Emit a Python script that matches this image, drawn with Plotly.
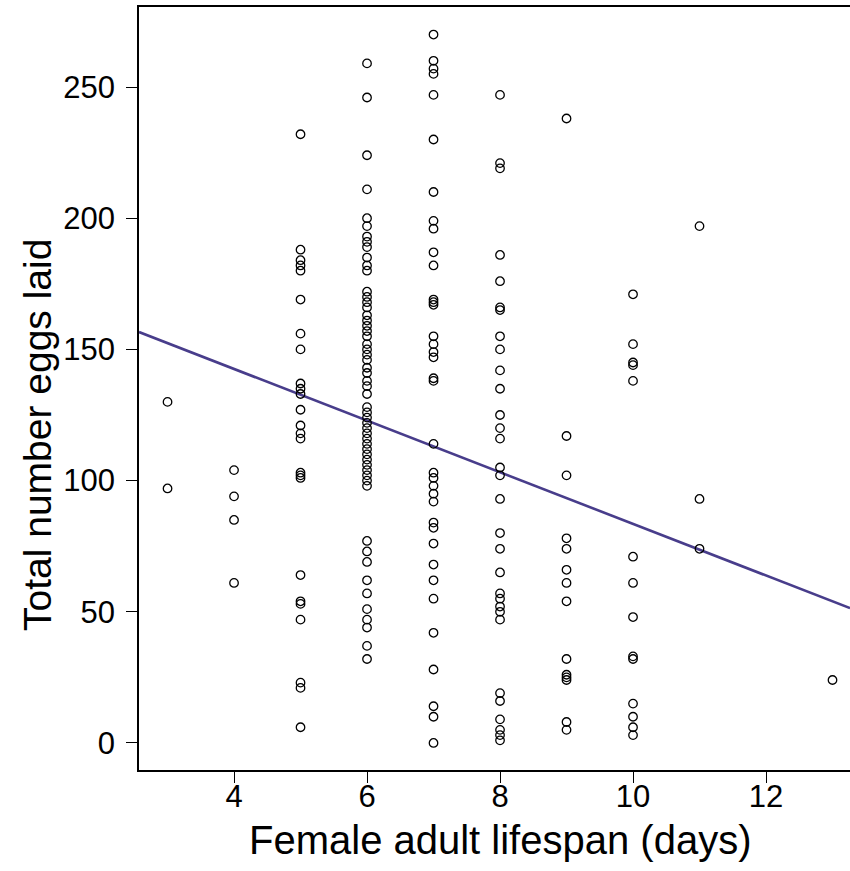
import plotly.graph_objects as go

# Data (total eggs per female, grouped by adult lifespan in days)
lifespan_days = [3, 4, 5, 6, 7, 8, 9, 10, 11, 13]
eggs_by_lifespan = {
    3: [130, 97],
    4: [104, 94, 85, 61],
    5: [232, 188, 184, 182, 180, 169, 156, 150, 137, 135, 133, 127, 121, 118, 116,
        103, 102, 101, 64, 54, 53, 47, 23, 21, 6],
    6: [259, 246, 224, 211, 200, 197, 193, 191, 189, 185, 182, 180, 172, 170, 168,
        166, 163, 161, 159, 157, 155, 152, 150, 148, 146, 143, 141, 138, 136, 133,
        128, 126, 124, 122, 120, 118, 116, 114, 112, 110, 108, 106, 104, 102, 100, 98,
        77, 73, 69, 62, 57, 51, 47, 44, 37, 32],
    7: [270, 260, 257, 255, 247, 230, 210, 199, 196, 187, 182, 169, 168, 167, 155,
        152, 149, 147, 139, 138, 114, 103, 101, 98, 95, 92, 84, 82, 76, 68, 62, 55,
        42, 28, 14, 10, 0],
    8: [247, 221, 219, 186, 176, 166, 165, 155, 150, 142, 135, 125, 120, 116, 105,
        102, 93, 80, 74, 65, 57, 55, 52, 50, 47, 19, 16, 9, 5, 3, 1],
    9: [238, 117, 102, 78, 74, 66, 61, 54, 32, 26, 25, 24, 8, 5],
    10: [171, 152, 145, 144, 138, 71, 61, 48, 33, 32, 15, 10, 6, 3],
    11: [197, 93, 74],
    13: [24],
}

# Fitted regression line
fit_intercept = 181.9
fit_slope = -9.84

x_range = [2.571, 13.263]
y_range = [-10.3, 280.5]
x_ticks = [4, 6, 8, 10, 12]
y_ticks = [0, 50, 100, 150, 200, 250]

x_title = "Female adult lifespan (days)"
y_title = "Total number eggs laid"

xs, ys = [], []
for d in lifespan_days:
    for e in eggs_by_lifespan[d]:
        xs.append(d)
        ys.append(e)

fig = go.Figure()
fig.add_trace(go.Scatter(
    x=x_range,
    y=[fit_intercept + fit_slope * v for v in x_range],
    mode="lines",
    line=dict(color="#483D8B", width=2.6),
    showlegend=False,
))
fig.add_trace(go.Scatter(
    x=xs, y=ys, mode="markers",
    marker=dict(symbol="circle-open", size=8.5, color="black", line=dict(width=1.3, color="black")),
    showlegend=False,
))

font_family = "Liberation Sans, Arial, sans-serif"
W, H = 850, 871
fig.update_layout(
    width=W, height=H,
    margin=dict(l=139, r=0, t=7, b=101),
    paper_bgcolor="white", plot_bgcolor="white",
    font=dict(family=font_family, color="black"),
    xaxis=dict(
        range=x_range, tickvals=x_ticks, ticks="outside", ticklen=11, tickwidth=1.2,
        tickcolor="black", showline=True, linecolor="black", linewidth=1.5, mirror=True,
        showgrid=False, zeroline=False, tickfont=dict(size=31), ticklabelstandoff=-13,
    ),
    yaxis=dict(
        range=y_range, tickvals=y_ticks, ticks="outside", ticklen=11, tickwidth=1.2,
        tickcolor="black", showline=True, linecolor="black", linewidth=1.5, mirror=False,
        showgrid=False, zeroline=False, tickfont=dict(size=31), ticklabelstandoff=5,
    ),
    annotations=[
        dict(text=x_title, xref="paper", yref="paper",
             x=(500 - 139) / (W - 139), y=-(840 - 770) / (770 - 7),
             xanchor="center", yanchor="middle", showarrow=False,
             font=dict(size=40, family=font_family, color="black")),
        dict(text=y_title, xref="paper", yref="paper", textangle=-90,
             x=-(139 - 37) / (W - 139), y=(770 - 435) / (770 - 7),
             xanchor="center", yanchor="middle", showarrow=False,
             font=dict(size=39, family=font_family, color="black")),
    ],
)

fig.write_html("out.html")
